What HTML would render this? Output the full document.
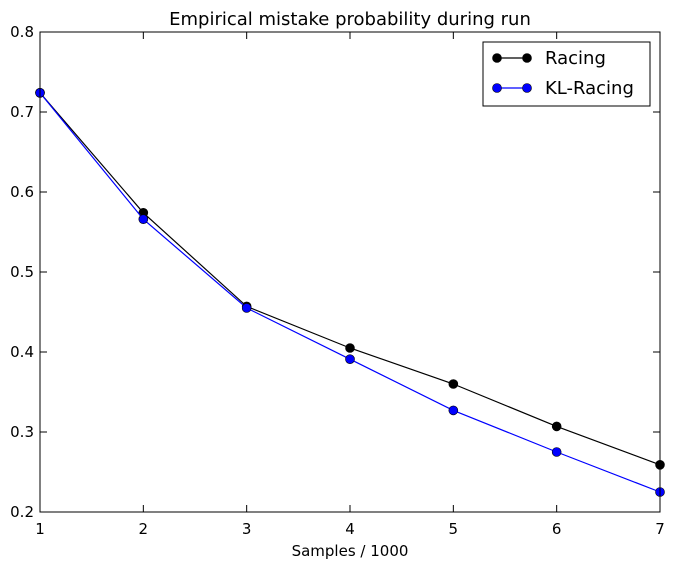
<!DOCTYPE html>
<html><head><meta charset="utf-8"><style>
body{margin:0;background:#fff;}
svg text{font-family:"DejaVu Sans","Liberation Sans",sans-serif;fill:#000;}
</style></head><body>
<svg id="chart" width="673" height="570" xmlns="http://www.w3.org/2000/svg"></svg>
<script>
const xValues=[1,2,3,4,5,6,7];
const racing=[0.724,0.574,0.457,0.405,0.360,0.307,0.259];
const klRacing=[0.724,0.566,0.455,0.391,0.327,0.275,0.225];
const xTicks=[1,2,3,4,5,6,7];
const yTicks=[0.2,0.3,0.4,0.5,0.6,0.7,0.8];
const yTickLabels=["0.2","0.3","0.4","0.5","0.6","0.7","0.8"];

const L=40,R=660,T=32,B=512;
const sx=v=>L+(v-1)/(7-1)*(R-L);
const sy=v=>B-(v-0.2)/(0.8-0.2)*(B-T);
const svg=document.getElementById('chart');
const NS='http://www.w3.org/2000/svg';
function mk(tag,attrs,parent){const e=document.createElementNS(NS,tag);for(const k in attrs)e.setAttribute(k,attrs[k]);(parent||svg).appendChild(e);return e;}

const title=mk('text',{x:350,y:25,'text-anchor':'middle','font-size':18});
title.textContent='Empirical mistake probability during run';



const xt=mk('text',{x:350,y:556,'text-anchor':'middle','font-size':15});
xt.textContent='Samples / 1000';



xTicks.forEach(v=>{
  const x=sx(v);
  const g=mk('g',{});
  
  
  mk('line',{x1:x,x2:x,y1:B,y2:B-7,stroke:'#000'},g);
  mk('line',{x1:x,x2:x,y1:T,y2:T+7,stroke:'#000'},g);
  const t=mk('text',{x:x,y:B+22,'text-anchor':'middle','font-size':15},g);t.textContent=v;
});
yTicks.forEach((v,i)=>{
  const y=sy(v);
  const g=mk('g',{});
  
  
  mk('line',{x1:L,x2:L+7,y1:y,y2:y,stroke:'#000'},g);
  mk('line',{x1:R,x2:R-7,y1:y,y2:y,stroke:'#000'},g);
  const t=mk('text',{x:L-6,y:y+5,'text-anchor':'end','font-size':15},g);t.textContent=yTickLabels[i];
});

function series(vals,color,name){
  const g=mk('g',{});
  
  
  mk('polyline',{points:vals.map((v,i)=>sx(xValues[i])+','+sy(v)).join(' '),fill:'none',stroke:color,'stroke-width':1.2},g);
  vals.forEach((v,i)=>{
    const c=mk('circle',{cx:sx(xValues[i]),cy:sy(v),r:4.5,fill:color,stroke:'#000','stroke-width':0.6},g);
    
    
  });
}
series(racing,'#000','racing-series');
series(klRacing,'#0000ff','kl-racing-series');

const frame=mk('rect',{x:L,y:T,width:R-L,height:B-T,fill:'none',stroke:'#000','stroke-width':1});



const lg=mk('g',{});


mk('rect',{x:483,y:42,width:167,height:64,fill:'#fff',stroke:'#000'},lg);
[['Racing','#000',58],['KL-Racing','#0000ff',88]].forEach(([lab,col,y])=>{
  const e=mk('g',{},lg);
  
  
  mk('line',{x1:497,x2:527,y1:y,y2:y,stroke:col,'stroke-width':1.2},e);
  mk('circle',{cx:497,cy:y,r:4.5,fill:col,stroke:'#000','stroke-width':0.6},e);
  mk('circle',{cx:527,cy:y,r:4.5,fill:col,stroke:'#000','stroke-width':0.6},e);
  const t=mk('text',{x:545,y:y+6,'font-size':18},e);t.textContent=lab;
});
</script>
</body></html>
